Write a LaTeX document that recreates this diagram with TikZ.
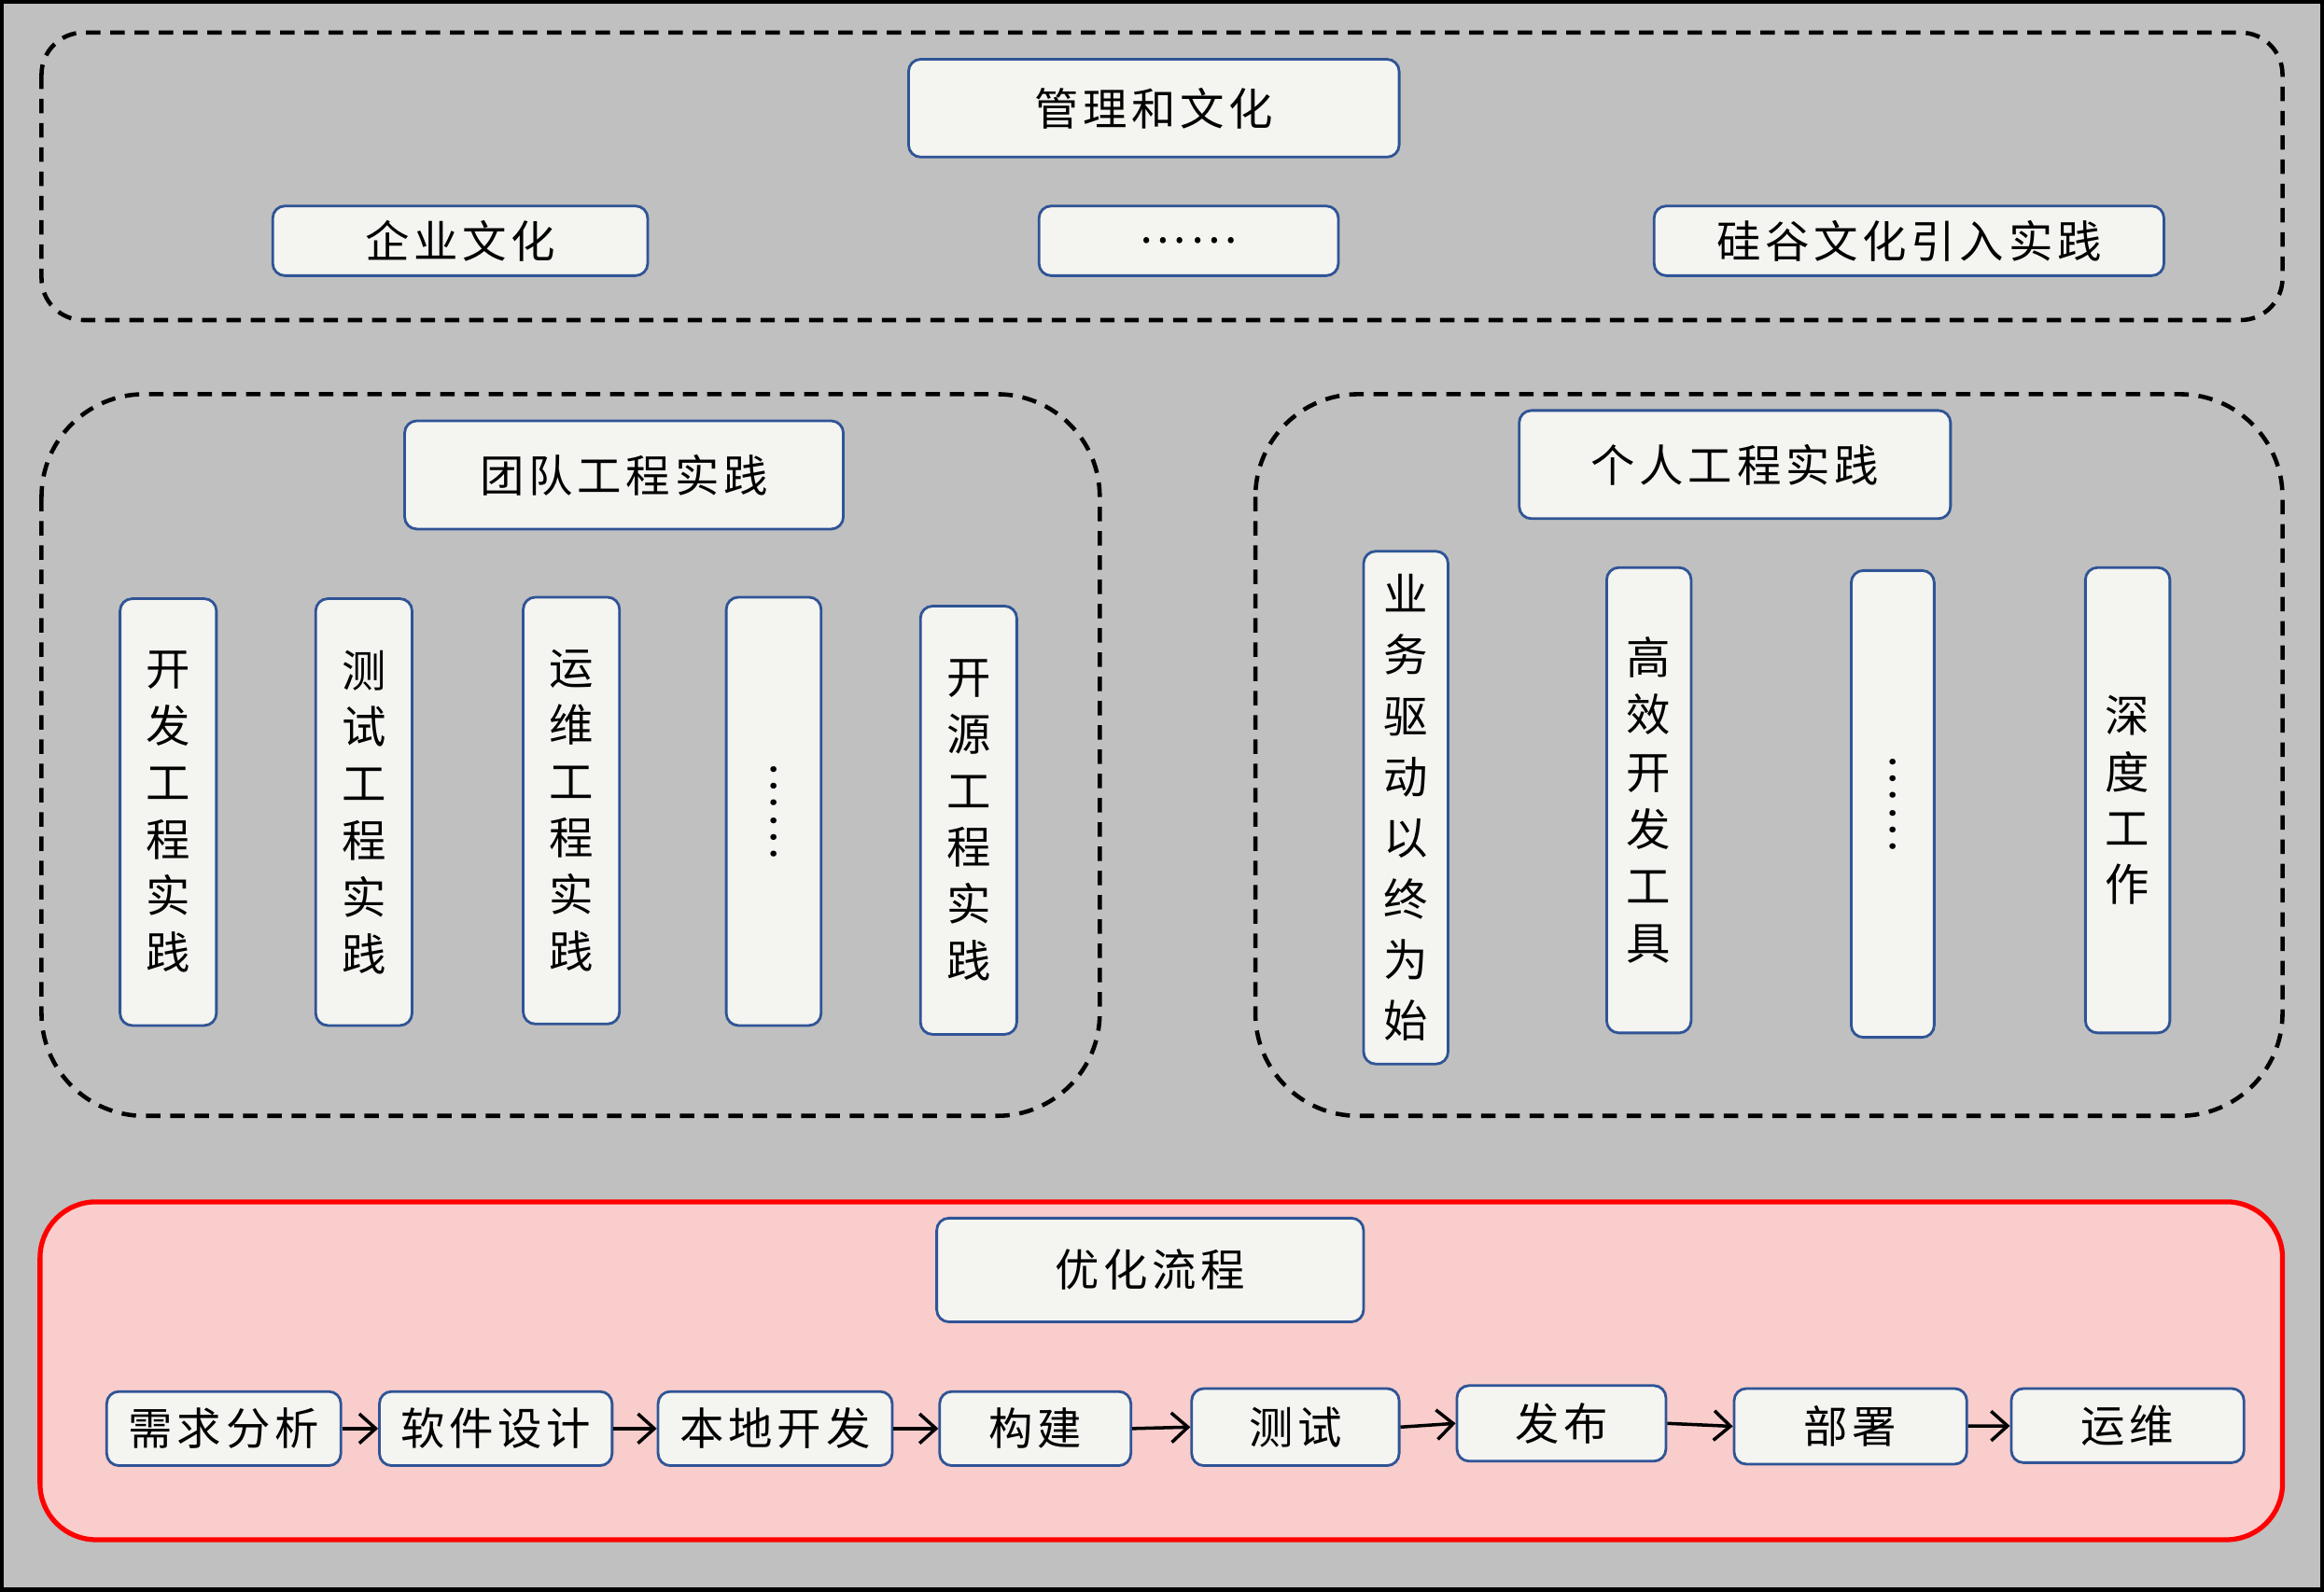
\documentclass[tikz,border=0pt]{standalone}
\usepackage{fontspec}
\newfontfamily\cjk[LetterSpace=10]{Noto Sans CJK SC}
\usetikzlibrary{arrows.meta}
\definecolor{bg}{HTML}{C0C0C0}
\definecolor{boxfill}{HTML}{F4F4F0}
\definecolor{boxline}{HTML}{2F5496}
\definecolor{redfill}{HTML}{F8CDCC}
\def\pxu{0.01588cm}
\tikzset{
  card/.style 2 args={draw=boxline, fill=boxfill, line width=0.8pt, rounded corners=0.13cm,
    inner sep=0pt, align=center, minimum width=#1*\pxu, minimum height=#2*\pxu,
    font=\cjk\fontsize{13.5}{17}\selectfont},
  frame/.style={draw=black, line width=1.3pt, dash pattern=on 4.4pt off 3pt},
  flowarrow/.style={line width=1pt, -{Straight Barb[length=5pt,width=9pt]}}
}
\begin{document}
\begin{tikzpicture}[x=0.01588cm, y=-0.01588cm]
\fill[bg] (0,0) rectangle (1568,1074);
\useasboundingbox (0,0) rectangle (1568,1074);
\draw[black, line width=1.6pt] (1,1) rectangle (1567,1073);

% containers
\draw[frame, rounded corners=0.45cm] (28,22) rectangle (1540,216);
\draw[frame, rounded corners=1.1cm] (28,266) rectangle (742,753);
\draw[frame, rounded corners=1.1cm] (847,266) rectangle (1540,753);
\draw[draw=red, fill=redfill, line width=1.5pt, rounded corners=0.6cm] (27,811) rectangle (1540,1039);

% top section
\node[card={331}{66}] (mgmt) at (778.5,73) {管理和文化};
\node[card={253}{47}] (corp) at (310.5,162.5) {企业文化};
\node[card={202}{47}] (dots1) at (802,162.5) {……};
\node[card={344}{47}] (sv) at (1288,162.5) {硅谷文化引入实践};

% team section
\node[card={296}{73}] (team) at (421,320.5) {团队工程实践};
\node[card={65}{288}, font=\cjk\fontsize{13.5}{17.3}\selectfont] (t1) at (113.5,548) {开\\发\\工\\程\\实\\践};
\node[card={65}{288}, font=\cjk\fontsize{13.5}{17.3}\selectfont] (t2) at (245.5,548) {测\\试\\工\\程\\实\\践};
\node[card={65}{288}, font=\cjk\fontsize{13.5}{17.3}\selectfont] (t3) at (385.5,547) {运\\维\\工\\程\\实\\践};
\node[card={64}{289}] (t4) at (522,547.5) {\rotatebox{-90}{……}};
\node[card={65}{289}, font=\cjk\fontsize{13.5}{17.3}\selectfont] (t5) at (653.5,553.5) {开\\源\\工\\程\\实\\践};

% personal section
\node[card={291}{73}] (pers) at (1170.5,313.5) {个人工程实践};
\node[card={57}{346}, font=\cjk\fontsize{13.5}{18.6}\selectfont] (p1) at (948.5,545) {业\\务\\驱\\动\\以\\终\\为\\始};
\node[card={57}{314}, font=\cjk\fontsize{13.5}{17.4}\selectfont] (p2) at (1112.5,540) {高\\效\\开\\发\\工\\具};
\node[card={56}{315}] (p3) at (1277,542.5) {\rotatebox{-90}{……}};
\node[card={57}{314}, font=\cjk\fontsize{13.5}{17.2}\selectfont] (p4) at (1435.5,540) {深\\度\\工\\作};

% process section
\node[card={288}{70}] (proc) at (776,857) {优化流程};
\node[card={158}{50}] (f1) at (151,964) {需求分析};
\node[card={157}{50}] (f2) at (334.5,964) {软件设计};
\node[card={158}{50}] (f3) at (523,964) {本地开发};
\node[card={129}{50}] (f4) at (698.5,964) {构建};
\node[card={140}{52}] (f5) at (874,963) {测试};
\node[card={141}{51}] (f6) at (1053.5,960.5) {发布};
\node[card={157}{51}] (f7) at (1248.5,962.5) {部署};
\node[card={157}{50}] (f8) at (1435.5,962) {运维};

\draw[flowarrow] (f1) -- (f2);
\draw[flowarrow] (f2) -- (f3);
\draw[flowarrow] (f3) -- (f4);
\draw[flowarrow] (f4.east) -- (f5.west);
\draw[flowarrow] (f5.east) -- (f6.west);
\draw[flowarrow] (f6.east) -- (f7.west);
\draw[flowarrow] (f7) -- (f8);
\end{tikzpicture}
\end{document}
